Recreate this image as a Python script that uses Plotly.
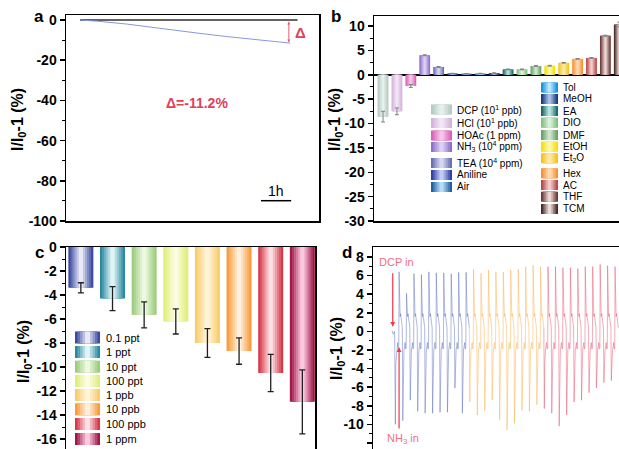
import plotly.graph_objects as go

W, H = 619, 449
FONT = "Liberation Sans, Arial, sans-serif"
RED = "#e0405a"

# ---------------- Panel a : long-term drift ----------------
A_TIME_H = [0, 0.6, 1.6, 2.6, 3.3, 4.1, 5.1, 6.2, 7.25]
A_SIGNAL = [0, -0.6, -2.0, -3.9, -5.3, -6.6, -8.3, -10.0, -11.5]
A_BASE_TIME_H = [0, 7.5]
A_BASE_SIGNAL = [0, 0]
A_DELTA = -11.2
A_YTICKS = [0, -20, -40, -60, -80, -100]
A_YTICKTEXT = ["0", "-20", "-40", "-60", "-80", "-100"]

# ---------------- Panel b : selectivity ----------------
B_GASES = ["DCP", "HCl", "HOAc", "NH3", "TEA", "Aniline", "Air", "Tol", "MeOH",
           "EA", "DIO", "DMF", "EtOH", "Et2O", "Hex", "AC", "THF", "TCM"]
B_VALUES = [-8.6, -7.5, -2.3, 4.0, 1.6, 0.25, 0.2, 0.25, 0.35,
            1.1, 1.1, 1.8, 1.85, 2.45, 3.25, 3.45, 8.0, 10.3]
B_ERRORS = [1.1, 0.7, 0.3, 0.1, 0.1, 0.05, 0.05, 0.05, 0.05,
            0.08, 0.08, 0.08, 0.08, 0.08, 0.08, 0.08, 0.1, 0.5]
B_EDGE = ["#b4cac2", "#d2b4da", "#d862b8", "#8e70c8", "#6870b0", "#3040a8", "#2060a0",
          "#1890e0", "#1a3a80", "#1a6a68", "#80c080", "#6aa06a", "#f0e010", "#f8c020",
          "#f89030", "#b84848", "#6a3a38", "#4a2a28"]
B_CENTER = ["#e8f0ec", "#f2e6f6", "#f6c6e8", "#dcd0f2", "#d4d8ee", "#c4ccf2", "#b4dcf6",
            "#bce6fc", "#a8bee4", "#b4e2de", "#d8f2d8", "#cce6cc", "#fcf8a4", "#fdeaa4",
            "#fddab4", "#f2cccc", "#ecd6d2", "#ecdcd8"]
B_LEGEND_COL1 = ["DCP (10<sup>1</sup> ppb)", "HCl (10<sup>1</sup> ppb)", "HOAc (1 ppm)",
                 "NH<sub>3</sub> (10<sup>4</sup> ppm)", "TEA (10<sup>4</sup> ppm)", "Aniline", "Air"]
B_LEGEND_COL2 = ["Tol", "MeOH", "EA", "DIO", "DMF", "EtOH", "Et<sub>2</sub>O",
                 "Hex", "AC", "THF", "TCM"]
B_YTICKS = [10, 5, 0, -5, -10, -15, -20, -25, -30]
B_YTICKTEXT = ["10", "5", "0", "-5", "-10", "-15", "-20", "-25", "-30"]

# ---------------- Panel c : concentration response ----------------
C_CONC = ["0.1 ppt", "1 ppt", "10 ppt", "100 ppt", "1 ppb", "10 ppb", "100 ppb", "1 ppm"]
C_VALUES = [-3.4, -4.3, -5.65, -6.2, -8.0, -8.67, -10.5, -12.9]
C_ERRORS = [0.42, 1.0, 1.08, 1.05, 1.2, 1.1, 1.55, 2.67]
C_EDGE = ["#3a4aa0", "#2a8aa0", "#9ccc7c", "#e0ee7c", "#f8cc6c", "#f89c3c", "#d83848", "#a01848"]
C_CENTER = ["#e8e8f6", "#e0f4f8", "#ecf8e0", "#fcfce2", "#fff4da", "#fff0e0", "#fce0e4", "#fcc8e0"]
C_YTICKS = [0, -2, -4, -6, -8, -10, -12, -14, -16]
C_YTICKTEXT = ["0", "-2", "-4", "-6", "-8", "-10", "-12", "-14", "-16"]

# ---------------- Panel d : cycling (DCP / NH3 alternation) ----------------
D_CYCLE = list(range(30))
D_TROUGH = [-10.0, -9.6, -7.4, -8.6, -8.8, -8.8, -8.7, -8.7, -6.1, -8.8,
            -7.6, -9.0, -8.5, -7.4, -9.5, -10.6, -9.9, -8.5, -8.6, -7.9,
            -8.3, -8.8, -10.2, -9.0, -7.6, -7.4, -6.6, -6.1, -5.5, -5.3]
D_PEAK = [6.4, 4.1, 6.2, 6.1, 6.4, 6.3, 6.3, 6.2, 6.35, 6.35,
          6.7, 6.25, 6.6, 6.4, 6.4, 6.6, 6.7, 6.96, 7.1, 6.96,
          6.96, 6.96, 6.85, 6.85, 6.75, 6.96, 6.96, 7.2, 7.06, 6.96]
D_SEGMENT_COLOR = (["rgba(80,100,185,0.5)"] * 10 + ["rgba(250,175,80,0.55)"] * 10
                   + ["rgba(228,70,100,0.5)"] * 10)
# shape of one cycle: (offset in cycle, level)
D_SHAPE = [(0.0, "trough"), (0.06, -3.5), (0.16, -2.0), (0.26, -1.5), (0.31, -1.2),
           (0.38, -1.9), (0.46, -1.8), (0.5, "peak"), (0.55, 3.0), (0.64, 1.6),
           (0.71, 1.9), (0.8, 0.9), (0.94, 0.4)]
D_START_X = [-0.45, -0.3, -0.1]
D_START_Y = [0.1, -0.3, 0.0]
D_YTICKS = [8, 6, 4, 2, 0, -2, -4, -6, -8, -10, -12]
D_YTICKTEXT = ["8", "6", "4", "2", "0", "-2", "-4", "-6", "-8", "-10", "-12"]


def hx(c):
    c = c.lstrip("#")
    return [int(c[i:i + 2], 16) for i in (0, 2, 4)]


def mix(a, b, t):
    A, B = hx(a), hx(b)
    return "rgb(%d,%d,%d)" % tuple(round(A[i] + (B[i] - A[i]) * t) for i in range(3))


def PX(px):
    return px / W


def PY(py):
    return 1 - py / H


fig = go.Figure()

# ---- panel a traces
fig.add_trace(go.Scatter(x=A_BASE_TIME_H, y=A_BASE_SIGNAL, mode="lines",
                         line=dict(color="#303030", width=1.5), xaxis="x", yaxis="y",
                         showlegend=False, hoverinfo="skip"))
fig.add_trace(go.Scatter(x=A_TIME_H, y=A_SIGNAL, mode="lines",
                         line=dict(color="#8898dc", width=1), xaxis="x", yaxis="y",
                         showlegend=False, hoverinfo="skip"))

# ---- gradient bars (layers from dark edge to light centre)
N_LAYERS = 6
B_WIDTH = 0.78
C_WIDTH = 0.79
for j in range(N_LAYERS):
    t = j / (N_LAYERS - 1)
    frac = 1 - j / N_LAYERS
    last = j == N_LAYERS - 1
    fig.add_trace(go.Bar(
        x=B_GASES, y=B_VALUES, width=B_WIDTH * frac,
        marker=dict(color=[mix(e, c, t) for e, c in zip(B_EDGE, B_CENTER)], line=dict(width=0)),
        error_y=dict(type="data", array=B_ERRORS, color="#808080", thickness=1, width=2, visible=last),
        xaxis="x2", yaxis="y2", showlegend=False, hoverinfo="skip"))
    fig.add_trace(go.Bar(
        x=C_CONC, y=C_VALUES, width=C_WIDTH * frac,
        marker=dict(color=[mix(e, c, t) for e, c in zip(C_EDGE, C_CENTER)], line=dict(width=0)),
        error_y=dict(type="data", array=C_ERRORS, color="#202020", thickness=1.3, width=3, visible=last),
        xaxis="x3", yaxis="y3", showlegend=False, hoverinfo="skip"))

# ---- panel d traces
seg_x, seg_y, seg_c = [], [], []
cur_x, cur_y, cur_c = list(D_START_X), list(D_START_Y), D_SEGMENT_COLOR[0]
for k, tr, pk, col in zip(D_CYCLE, D_TROUGH, D_PEAK, D_SEGMENT_COLOR):
    if col != cur_c:
        seg_x.append(cur_x); seg_y.append(cur_y); seg_c.append(cur_c)
        cur_x, cur_y, cur_c = [cur_x[-1]], [cur_y[-1]], col
    for off, lev in D_SHAPE:
        cur_x.append(k + off)
        cur_y.append(tr if lev == "trough" else pk if lev == "peak" else lev)
seg_x.append(cur_x); seg_y.append(cur_y); seg_c.append(cur_c)
for sx, sy, sc in zip(seg_x, seg_y, seg_c):
    fig.add_trace(go.Scatter(x=sx, y=sy, mode="lines", line=dict(color=sc, width=0.9),
                             xaxis="x4", yaxis="y4", showlegend=False, hoverinfo="skip"))

# ---- axes
tickfont = dict(family=FONT, size=14, color="black", weight="bold")
ybase = dict(showline=True, linecolor="black", linewidth=1.5, showgrid=False, zeroline=False,
             ticks="outside", ticklen=5, tickwidth=1.5, tickcolor="black", tickfont=tickfont,
             tickmode="array", automargin=False, fixedrange=True)
xbase = dict(showline=True, linecolor="black", linewidth=1.5, showgrid=False, zeroline=False,
             ticks="", showticklabels=False, fixedrange=True, automargin=False)


def minor(vals):
    return dict(ticks="outside", ticklen=3, tickwidth=1, tickcolor="black", tickvals=vals, showgrid=False)


fig.update_layout(
    template="none",
    width=W, height=H, margin=dict(l=0, r=0, t=0, b=0, autoexpand=False),
    paper_bgcolor="white", plot_bgcolor="white", barmode="overlay",
    font=dict(family=FONT, color="black"),
    xaxis=dict(xbase, domain=[PX(66), PX(319)], range=[-0.483, 8.24], mirror=True, anchor="y"),
    yaxis=dict(ybase, domain=[PY(221), PY(15)], range=[-100, 2.49], mirror=True, anchor="x",
               tickvals=A_YTICKS, ticktext=A_YTICKTEXT,
               minor=minor([-10, -30, -50, -70, -90])),
    xaxis2=dict(xbase, domain=[PX(374), 1], range=[-0.65, 16.98], mirror=True, anchor="y2",
                type="category"),
    yaxis2=dict(ybase, domain=[PY(221), PY(16)], range=[-30, 12.05], anchor="x2",
                tickvals=B_YTICKS, ticktext=B_YTICKTEXT, zeroline=True,
                zerolinecolor="black", zerolinewidth=1.5,
                minor=minor([7.5, 2.5, -2.5, -7.5, -12.5, -17.5, -22.5, -27.5])),
    xaxis3=dict(xbase, domain=[PX(66), PX(315)], range=[-0.47, 7.4], side="top", anchor="y3",
                type="category"),
    yaxis3=dict(ybase, domain=[0, PY(247)], range=[-16.83, 0], mirror=True, anchor="x3",
                tickvals=C_YTICKS, ticktext=C_YTICKTEXT,
                minor=minor([-1, -3, -5, -7, -9, -11, -13, -15])),
    xaxis4=dict(xbase, domain=[PX(373), 1], range=[-3.0, 30.03], side="top", anchor="y4"),
    yaxis4=dict(ybase, domain=[0, PY(247)], range=[-12.65, 9.075], anchor="x4",
                tickvals=D_YTICKS, ticktext=D_YTICKTEXT,
                minor=minor([7, 5, 3, 1, -1, -3, -5, -7, -9, -11])),
)

ann = []
shapes = []


def text_at(x, y, text, size, color="black", xanchor="center", textangle=0):
    ann.append(dict(x=PX(x), y=PY(y), xref="paper", yref="paper", text=text, showarrow=False,
                    xanchor=xanchor, yanchor="middle", textangle=textangle,
                    font=dict(size=size, color=color, family=FONT)))


# panel labels
for lab, x, y in [("a", 39, 17), ("b", 336, 17), ("c", 39, 252), ("d", 347, 252)]:
    text_at(x, y, "<b>%s</b>" % lab, 17)
# y titles
for x, y in [(18, 120), (335, 120), (24, 352), (337, 349)]:
    text_at(x, y, "<b>I/I<sub>0</sub>-1 (%)</b>", 16, textangle=-90)

# panel a decorations
ann.append(dict(x=7.2, y=A_DELTA, ax=7.2, ay=0, xref="x", yref="y", axref="x", ayref="y",
                text="", showarrow=True, arrowhead=2, startarrowhead=2, arrowside="end+start",
                arrowsize=0.6, startarrowsize=0.6, arrowwidth=1, arrowcolor="#e86078"))
ann.append(dict(x=7.6, y=-6.0, xref="x", yref="y", text="<b>Δ</b>", showarrow=False,
                xanchor="center", yanchor="middle", font=dict(size=15, color=RED, family=FONT)))
ann.append(dict(x=4.03, y=-41.3, xref="x", yref="y", text="<b>Δ=-11.2%</b>", showarrow=False,
                xanchor="center", yanchor="middle", font=dict(size=14, color=RED, family=FONT)))
shapes.append(dict(type="line", xref="x", yref="y", x0=6.24, x1=7.28, y0=-89.9, y1=-89.9,
                   line=dict(color="black", width=1.5)))
ann.append(dict(x=6.76, y=-85.0, xref="x", yref="y", text="1h", showarrow=False,
                xanchor="center", yanchor="middle", font=dict(size=14, color="black", family=FONT)))

# panel d decorations
ann.append(dict(x=-0.35, y=0.5, ax=-0.35, ay=6.4, xref="x4", yref="y4", axref="x4", ayref="y4",
                text="", showarrow=True, arrowhead=2, arrowsize=0.8, arrowwidth=1.2, arrowcolor="#f03848"))
ann.append(dict(x=0.5, y=-1.7, ax=0.5, ay=-10.6, xref="x4", yref="y4", axref="x4", ayref="y4",
                text="", showarrow=True, arrowhead=2, arrowsize=0.8, arrowwidth=1.2, arrowcolor="#f03848"))
text_at(396, 262, "DCP in", 11, color="#f07080")
text_at(403, 439, "NH<sub>3</sub> in", 11, color="#f07080")


def swatch(x0, x1, yc, h, edge, center, n=5):
    dx = (x1 - x0) / (2 * n)
    for j in range(n):
        t = j / (n - 1)
        shapes.append(dict(type="rect", xref="paper", yref="paper",
                           x0=PX(x0 + j * dx), x1=PX(x1 - j * dx),
                           y0=PY(yc + h / 2), y1=PY(yc - h / 2),
                           fillcolor=mix(edge, center, t), line=dict(width=0)))


# panel b legend
B_COL1_Y = [109.5, 123, 135.5, 147, 163, 175, 187]
B_COL2_Y = [87.5, 99, 111, 122.7, 135, 146.7, 158.3, 173.3, 185, 196.7, 209]
col1_idx = [0, 1, 2, 3, 4, 5, 6]
col2_idx = list(range(7, 18))
for i, yc, lab in zip(col1_idx, B_COL1_Y, B_LEGEND_COL1):
    swatch(431, 452, yc, 10, B_EDGE[i], B_CENTER[i])
    text_at(455, yc, lab, 10, xanchor="left")
for i, yc, lab in zip(col2_idx, B_COL2_Y, B_LEGEND_COL2):
    swatch(541, 558, yc, 10, B_EDGE[i], B_CENTER[i])
    text_at(561, yc, lab, 10, xanchor="left")

# panel c legend
C_LEG_Y = [337.5, 352, 366.7, 381, 395, 409.3, 424, 439]
for i, (yc, lab) in enumerate(zip(C_LEG_Y, C_CONC)):
    swatch(75, 100, yc, 12, C_EDGE[i], C_CENTER[i])
    text_at(104, yc, lab, 11, xanchor="left")

fig.update_layout(annotations=ann, shapes=shapes)
fig.write_html("out.html", config={"displayModeBar": False, "staticPlot": True},
               post_script="document.body.style.margin='0';document.body.style.overflow='hidden';")
